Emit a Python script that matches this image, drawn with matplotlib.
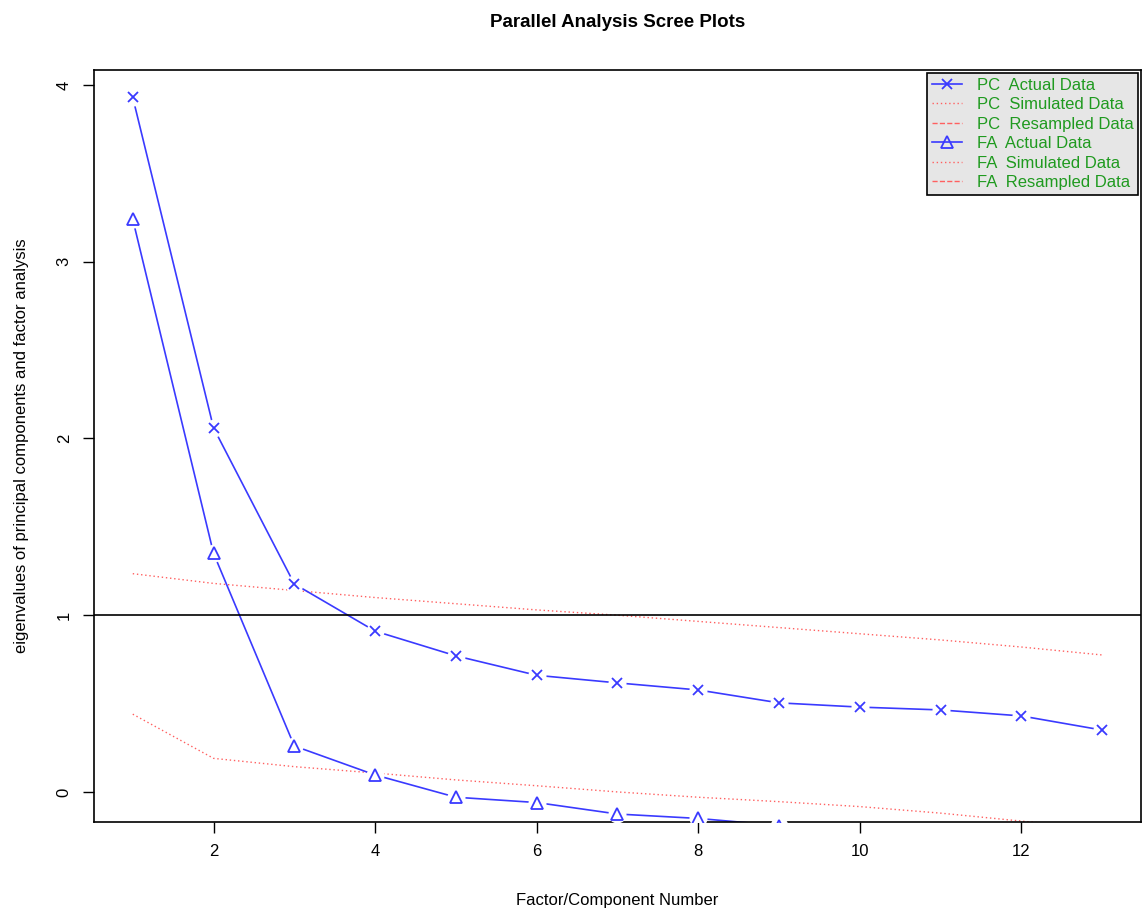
import numpy as np
import matplotlib.pyplot as plt
from matplotlib.lines import Line2D

plt.rcParams['font.family'] = ['Liberation Sans', 'DejaVu Sans']

factors = list(range(1, 14))
pc_actual = [3.93, 2.06, 1.177, 0.91, 0.77, 0.66, 0.617, 0.577, 0.504, 0.48, 0.464, 0.43, 0.35]
fa_actual = [3.24, 1.35, 0.26, 0.096, -0.03, -0.06, -0.125, -0.15, -0.19, -0.26, -0.3, -0.34, -0.4]
pc_simulated = [1.235, 1.18, 1.14, 1.10, 1.065, 1.03, 1.0, 0.965, 0.93, 0.895, 0.86, 0.82, 0.775]
fa_simulated = [0.44, 0.19, 0.143, 0.107, 0.068, 0.035, 0.0, -0.03, -0.055, -0.083, -0.12, -0.165, -0.21]

legend_labels = ["PC  Actual Data", "PC  Simulated Data", "PC  Resampled Data",
                 "FA  Actual Data", "FA  Simulated Data", "FA  Resampled Data"]

blue = '#3a3aff'
red = '#ff6060'

fig = plt.figure(figsize=(11.42, 9.13), dpi=100)
ax = fig.add_axes([0.0823, 0.0997, 0.9168, 0.8236])

# actual data, R type="b" style (gaps around points)
for vals, mk, ms in [(pc_actual, 'x', 7), (fa_actual, '^', 8)]:
    ax.plot(factors, vals, color=blue, lw=1.2, zorder=2)
    ax.plot(factors, vals, 'o', color='white', ms=13, mec='none', zorder=3)
    ax.plot(factors, vals, mk, color=blue, ms=ms, mfc='none', mew=1.3, ls='none', zorder=4)

ax.plot(factors, pc_simulated, color=red, lw=1.0, ls=(0, (1, 2)), zorder=1)
ax.plot(factors, fa_simulated, color=red, lw=1.0, ls=(0, (1, 2)), zorder=1)

ax.axhline(1, color='black', lw=1.2, zorder=5)

ax.set_xlim(0.52, 13.48)
ax.set_ylim(-0.17, 4.085)
ax.set_xticks([2, 4, 6, 8, 10, 12])
ax.set_yticks([0, 1, 2, 3, 4])
ax.tick_params(axis='both', length=8, width=1, labelsize=12, pad=8)
for lab in ax.get_yticklabels():
    lab.set_rotation(90)
    lab.set_va('center')
for sp in ax.spines.values():
    sp.set_linewidth(1.2)

ax.set_xlabel("Factor/Component Number", fontsize=12, labelpad=24)
ax.set_ylabel("eigenvalues of principal components and factor analysis", fontsize=12, labelpad=20)
ax.set_title("Parallel Analysis Scree Plots", fontsize=13.5, fontweight='bold', pad=31)

handles = [
    Line2D([], [], color=blue, marker='x', lw=1.2, ms=7, mew=1.3),
    Line2D([], [], color=red, ls=(0, (1, 2)), lw=1.0),
    Line2D([], [], color=red, ls='--', lw=1.0),
    Line2D([], [], color=blue, marker='^', mfc='none', lw=1.2, ms=8, mew=1.3),
    Line2D([], [], color=red, ls=(0, (1, 2)), lw=1.0),
    Line2D([], [], color=red, ls='--', lw=1.0),
]
leg = ax.legend(handles, legend_labels, loc='upper right', fontsize=12,
                labelcolor='#1f9a1f', frameon=True, fancybox=False,
                facecolor='#e6e6e6', edgecolor='black', framealpha=1,
                handlelength=1.8, handletextpad=0.9, labelspacing=0.27,
                borderpad=0.3, borderaxespad=0.15)
leg.get_frame().set_linewidth(1.2)
leg.set_zorder(10)

fig.savefig("out.png", dpi=100)
